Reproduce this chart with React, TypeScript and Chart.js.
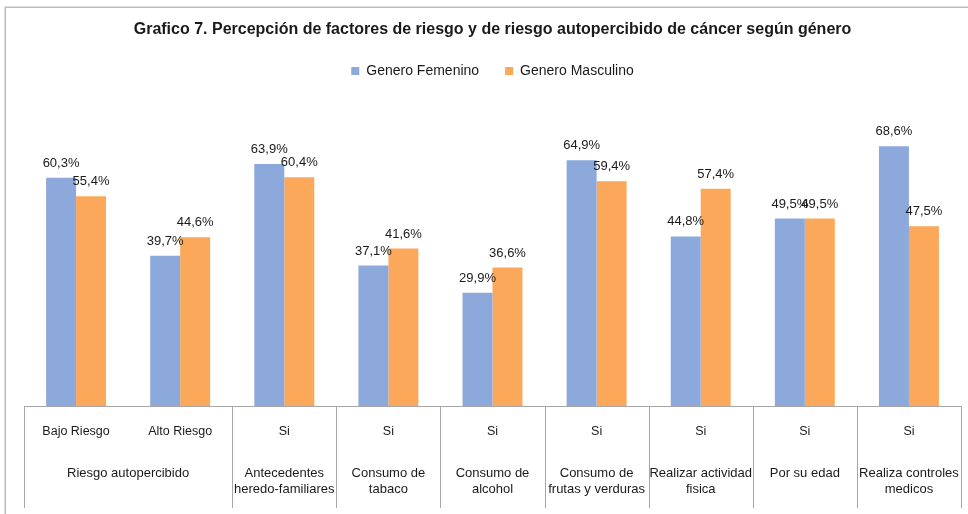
import React, { useEffect, useRef } from "react";
import { Chart, registerables } from "chart.js";

Chart.register(...registerables);

const TITLE = "Grafico 7. Percepción de factores de riesgo y de riesgo autopercibido de cáncer según género";
const seriesNames = ["Genero Femenino", "Genero Masculino"];
const subLabels = ["Bajo Riesgo", "Alto Riesgo", "Si", "Si", "Si", "Si", "Si", "Si", "Si"];
const groupLabels: string[][] = [
  ["Riesgo autopercibido"],
  ["Antecedentes", "heredo-familiares"],
  ["Consumo de", "tabaco"],
  ["Consumo de", "alcohol"],
  ["Consumo de", "frutas y verduras"],
  ["Realizar actividad", "fisica"],
  ["Por su edad"],
  ["Realiza controles", "medicos"],
];
const groupSpans = [2, 1, 1, 1, 1, 1, 1, 1];
const femenino = [60.3, 39.7, 63.9, 37.1, 29.9, 64.9, 44.8, 49.5, 68.6];
const masculino = [55.4, 44.6, 60.4, 41.6, 36.6, 59.4, 57.4, 49.5, 47.5];

const FONT = "'Liberation Sans', Arial, sans-serif";
const BLUE = "#8DA9DB";
const ORANGE = "#FCA85A";
const LINE = "#A6A6A6";

const fmt = (v: number) => v.toFixed(1).replace(".", ",") + "%";

const decor = {
  id: "decor",
  beforeDraw(chart: any) {
    const ctx = chart.ctx;
    ctx.save();
    ctx.fillStyle = "#ffffff";
    ctx.fillRect(0, 0, chart.width, chart.height);
    ctx.strokeStyle = "#BDBDBD";
    ctx.lineWidth = 1.5;
    ctx.strokeRect(5.25, 7.25, chart.width + 20, chart.height + 20);
    ctx.restore();
  },
  afterDraw(chart: any) {
    const ctx = chart.ctx;
    const x = chart.scales.x;
    const axisY = chart.chartArea.bottom;
    const half = (x.getPixelForValue(1) - x.getPixelForValue(0)) / 2;
    ctx.save();
    ctx.strokeStyle = LINE;
    ctx.lineWidth = 1;
    ctx.fillStyle = "#1a1a1a";
    ctx.font = `13px ${FONT}`;
    ctx.textAlign = "center";
    ctx.textBaseline = "middle";
    let start = 0;
    groupSpans.forEach((span, g) => {
      const left = x.getPixelForValue(start) - half;
      const right = x.getPixelForValue(start + span - 1) + half;
      [left, right].forEach((px) => {
        const xx = Math.round(px) + 0.5;
        ctx.beginPath();
        ctx.moveTo(xx, axisY);
        ctx.lineTo(xx, axisY + 102);
        ctx.stroke();
      });
      const cx = (left + right) / 2;
      groupLabels[g].forEach((t, i) => {
        ctx.fillText(t, cx, axisY + 67 + i * 16.5);
      });
      start += span;
    });
    // data labels
    ctx.font = `13px ${FONT}`;
    chart.data.datasets.forEach((ds: any, di: number) => {
      const meta = chart.getDatasetMeta(di);
      meta.data.forEach((el: any, i: number) => {
        ctx.fillText(fmt(ds.data[i]), el.x, el.y - 14.5);
      });
    });
    ctx.restore();
  },
};

export default function App() {
  const ref = useRef<HTMLCanvasElement | null>(null);
  useEffect(() => {
    document.body.style.margin = "0";
    const canvas = ref.current!;
    const chart = new Chart(canvas, {
      type: "bar",
      data: {
        labels: subLabels,
        datasets: [
          { label: seriesNames[0], data: femenino, backgroundColor: BLUE, borderWidth: 0 },
          { label: seriesNames[1], data: masculino, backgroundColor: ORANGE, borderWidth: 0 },
        ],
      },
      options: {
        responsive: false,
        animation: false,
        devicePixelRatio: 1,
        layout: { padding: { left: 24, right: 7, top: 0, bottom: 0 } },
        datasets: { bar: { barPercentage: 1, categoryPercentage: 0.576 } },
        plugins: {
          title: {
            display: true,
            text: TITLE,
            color: "#1a1a1a",
            font: { family: FONT, size: 16, weight: "bold", lineHeight: 1 },
            padding: { top: 22, bottom: 0 },
          },
          legend: {
            display: true,
            position: "top",
            labels: {
              boxWidth: 8,
              boxHeight: 8,
              padding: 26,
              color: "#1a1a1a",
              font: { family: FONT, size: 14 },
            },
          },
          tooltip: { enabled: false },
        },
        scales: {
          x: {
            grid: { display: false, drawTicks: false },
            border: { display: true, color: LINE, width: 1 },
            ticks: {
              autoSkip: false,
              maxRotation: 0,
              padding: 18,
              color: "#1a1a1a",
              font: { family: FONT, size: 12.5 },
            },
            afterFit: (scale: any) => {
              scale.height = 108;
            },
          },
          y: {
            display: false,
            min: 0,
            max: 84,
          },
        },
      },
      plugins: [decor],
    });
    return () => chart.destroy();
  }, []);
  return (
    <div style={{ width: 968, height: 514 }}>
      <canvas ref={ref} width={968} height={514} />
    </div>
  );
}
